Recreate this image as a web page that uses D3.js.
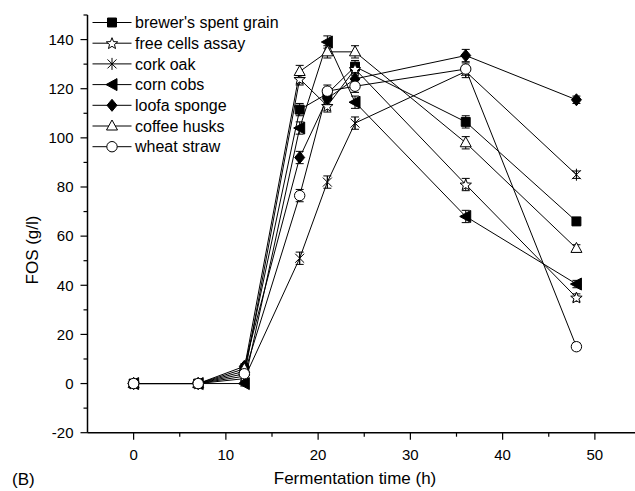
<!DOCTYPE html>
<html>
<head>
<meta charset="utf-8">
<script src="https://cdn.jsdelivr.net/npm/d3@7"></script>
<style>
  body { margin: 0; background: #fff; }
  text { font-family: "Liberation Sans", Arial, sans-serif; fill: #000; }
</style>
</head>
<body>
<div id="chart"></div>
<script>
const times = [0, 7, 12, 18, 21, 24, 36, 48];

const brewers   = [0, 0, 5, 111.5, 118, 129, 106.5, 66];
const freeCells = [0, 0, 3, 124, 113, 128, 81, 35];
const corkOak   = [0, 0, 2, 51, 82, 106, 127, 85];
const cornCobs  = [0, 0, 0, 104, 139, 114.5, 68, 40.5];
const loofa     = [0, 0, 7, 92, 116, 124, 133.5, 115.5];
const coffee    = [0, 0, 6, 127, 135, 135, 98, 55];
const wheat     = [0, 0, 4, 76.5, 119, 121, 128, 15];

const errs = [0, 0, 1, 2.5, 2.5, 2.5, 2.5, 1.5];

const seriesNames = ["brewer's spent grain", "free cells assay", "cork oak", "corn cobs",
                     "loofa sponge", "coffee husks", "wheat straw"];
const seriesValues = [brewers, freeCells, corkOak, cornCobs, loofa, coffee, wheat];
const seriesSymbols = ["square", "star", "asterisk", "left", "diamond", "triangle", "circle"];

const yTicks = [-20, 0, 20, 40, 60, 80, 100, 120, 140];
const xTicks = [0, 10, 20, 30, 40, 50];

const width = 635, height = 491;

let svg = d3.select("#chart").append("svg")
            .attr("width", width)
            .attr("height", height);

let x = d3.scaleLinear().domain([-5, 55]).range([87.5, 641]);
let y = d3.scaleLinear().domain([-20, 150]).range([432.7, 15]);

// symbol path builder, centred at 0,0
function symbolPath(type) {
  if (type === "square") return d3.symbol(d3.symbolSquare, 80)();
  if (type === "diamond") return "M0,-6L5,0L0,6L-5,0Z";
  if (type === "circle") return d3.symbol(d3.symbolCircle, 85)();
  if (type === "triangle") return "M0,-6L5.5,4L-5.5,4Z";
  if (type === "left") return "M-6,0L5,-6L5,6Z";
  if (type === "star") {
    let pts = [];
    for (let i = 0; i < 10; i++) {
      let r = i % 2 === 0 ? 6 : 2.6;
      let a = -Math.PI / 2 + i * Math.PI / 5;
      pts.push([r * Math.cos(a), r * Math.sin(a) + 0.5]);
    }
    return "M" + pts.map(p => p[0].toFixed(2) + "," + p[1].toFixed(2)).join("L") + "Z";
  }
  if (type === "asterisk") return "M-4.5,-4.5L4.5,4.5M-4.5,4.5L4.5,-4.5M0,-6L0,6";
  return "";
}
const filled = { square: true, diamond: true, left: true };

// axes
let yAxis = svg.append("g").attr("transform", "translate(" + x(-5) + ",0)");
yAxis.append("line").attr("y1", y(150)).attr("y2", y(-20))
     .attr("stroke", "#000").attr("stroke-width", 1.5);
d3.range(-20, 151, 10).forEach(v => {
  let major = yTicks.indexOf(v) >= 0;
  yAxis.append("line").attr("x1", 0).attr("x2", major ? -7 : -4)
       .attr("y1", y(v)).attr("y2", y(v))
       .attr("stroke", "#000").attr("stroke-width", 1.2);
});
yAxis.selectAll("text.tick").data(yTicks).enter().append("text")
     .attr("x", -14).attr("y", d => y(d)).attr("dy", "0.35em")
     .attr("text-anchor", "end").attr("font-size", 15)
     .text(d => d);

let xAxis = svg.append("g").attr("transform", "translate(0," + y(-20) + ")");
xAxis.append("line").attr("x1", x(-5)).attr("x2", width)
     .attr("stroke", "#000").attr("stroke-width", 1.5);
d3.range(0, 56, 5).forEach(v => {
  let major = xTicks.indexOf(v) >= 0;
  xAxis.append("line").attr("x1", x(v)).attr("x2", x(v))
       .attr("y1", 0).attr("y2", major ? 7 : 4)
       .attr("stroke", "#000").attr("stroke-width", 1.2);
});
xAxis.selectAll("text.tick").data(xTicks).enter().append("text")
     .attr("x", d => x(d)).attr("y", 27)
     .attr("text-anchor", "middle").attr("font-size", 15)
     .text(d => d);

svg.append("text").attr("x", 355).attr("y", 484)
   .attr("text-anchor", "middle").attr("font-size", 17)
   .text("Fermentation time (h)");
svg.append("text").attr("x", 12).attr("y", 485)
   .attr("font-size", 17).text("(B)");
svg.append("text")
   .attr("transform", "translate(38," + 250 + ") rotate(-90)")
   .attr("text-anchor", "middle").attr("font-size", 17)
   .text("FOS (g/l)");

// lines
let line = d3.line().x((d, i) => x(times[i])).y(d => y(d));
let plot = svg.append("g");
seriesValues.forEach(vals => {
  plot.append("path").attr("d", line(vals))
      .attr("fill", "none").attr("stroke", "#000").attr("stroke-width", 1);
});

// error bars and markers
seriesValues.forEach((vals, s) => {
  let g = plot.append("g");
  vals.forEach((v, i) => {
    let e = errs[i];
    if (e > 0) {
      g.append("line").attr("x1", x(times[i])).attr("x2", x(times[i]))
       .attr("y1", y(v + e)).attr("y2", y(v - e)).attr("stroke", "#000");
      [v + e, v - e].forEach(c => {
        g.append("line").attr("x1", x(times[i]) - 4).attr("x2", x(times[i]) + 4)
         .attr("y1", y(c)).attr("y2", y(c)).attr("stroke", "#000");
      });
    }
  });
  let type = seriesSymbols[s];
  g.selectAll("path").data(vals).enter().append("path")
   .attr("d", symbolPath(type))
   .attr("transform", (d, i) => "translate(" + x(times[i]) + "," + y(d) + ")")
   .attr("fill", filled[type] ? "#000" : (type === "asterisk" ? "none" : "#fff"))
   .attr("stroke", "#000").attr("stroke-width", 1);
});

// legend
let legend = svg.append("g");
seriesNames.forEach((name, i) => {
  let ly = 22.5 + i * 20.7;
  legend.append("line").attr("x1", 92.5).attr("x2", 131.5)
        .attr("y1", ly).attr("y2", ly).attr("stroke", "#000");
  let type = seriesSymbols[i];
  legend.append("path").attr("d", symbolPath(type))
        .attr("transform", "translate(112," + ly + ")")
        .attr("fill", filled[type] ? "#000" : (type === "asterisk" ? "none" : "#fff"))
        .attr("stroke", "#000");
  legend.append("text").attr("x", 135).attr("y", ly).attr("dy", "0.35em")
        .attr("font-size", 16).text(name);
});
</script>
</body>
</html>
